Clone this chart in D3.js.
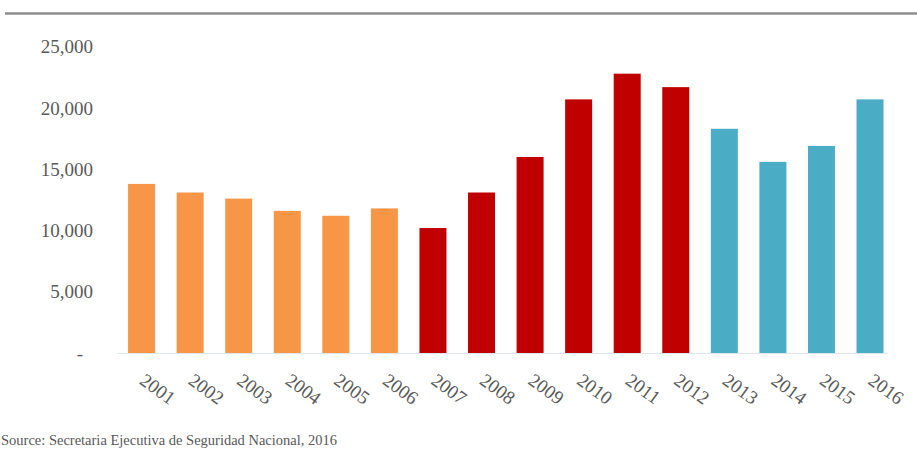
<!DOCTYPE html>
<html>
<head>
<meta charset="utf-8">
<script src="https://cdn.jsdelivr.net/npm/d3@7"></script>
<style>
  html, body { margin: 0; padding: 0; background: #ffffff; }
  svg { display: block; }
</style>
</head>
<body>
<svg id="chart" width="917" height="452"></svg>
<script>
// Homicides per year, 2001–2016
const years = ["2001","2002","2003","2004","2005","2006","2007","2008",
               "2009","2010","2011","2012","2013","2014","2015","2016"];
const homicides = [13800, 13100, 12600, 11600, 11200, 11800, 10200, 13100,
                   16000, 20700, 22800, 21700, 18300, 15600, 16900, 20700];
// Federal administration in office each year
const administration = ["Fox","Fox","Fox","Fox","Fox","Fox",
                        "Calderón","Calderón","Calderón","Calderón","Calderón","Calderón",
                        "Peña Nieto","Peña Nieto","Peña Nieto","Peña Nieto"];
const yTicks = [0, 5000, 10000, 15000, 20000, 25000];
const sourceNote = "Source: Secretaria Ejecutiva de Seguridad Nacional, 2016";

const serif = "'Liberation Serif', 'Times New Roman', serif";
const textColor = "#595959";

const svg = d3.select("#chart");

const color = d3.scaleOrdinal()
  .domain(["Fox", "Calderón", "Peña Nieto"])
  .range(["#F79646", "#C00000", "#4BACC6"]);

// Excel-style 80% gap width
const x = d3.scaleBand()
  .domain(years)
  .range([117.3, 894.3])
  .paddingInner(0.444)
  .paddingOuter(0.222);

const y = d3.scaleLinear()
  .domain([0, 25000])
  .range([353, 46.7]);

// Title rule across the top
svg.append("line")
  .attr("x1", 5).attr("x2", 917)
  .attr("y1", 13.5).attr("y2", 13.5)
  .attr("stroke", "#8c8c8c")
  .attr("stroke-width", 2.5);

// Bars
svg.append("g")
  .selectAll("rect")
  .data(years)
  .join("rect")
  .attr("x", d => x(d))
  .attr("width", x.bandwidth())
  .attr("y", (d, i) => y(homicides[i]))
  .attr("height", (d, i) => y(0) - y(homicides[i]))
  .attr("fill", (d, i) => color(administration[i]));

// Category axis line
svg.append("line")
  .attr("x1", 117.3).attr("x2", 888)
  .attr("y1", y(0) + 0.5).attr("y2", y(0) + 0.5)
  .attr("stroke", "#dfe6ec")
  .attr("stroke-width", 1.2);

// Value axis (labels only)
const yAxis = d3.axisLeft(y)
  .tickValues(yTicks)
  .tickSize(0)
  .tickPadding(0)
  .tickFormat(d => d === 0 ? "-" : d3.format(",")(d));

const gy = svg.append("g")
  .attr("transform", "translate(93,0)")
  .call(yAxis);
gy.attr("font-family", serif);
gy.select(".domain").remove();
gy.selectAll("text")
  .attr("font-size", 19)
  .attr("fill", textColor)
  .attr("x", d => d === 0 ? -10 : 0);

// Category axis labels, rotated
const xAxis = d3.axisBottom(x).tickSize(0).tickPadding(0);
const gx = svg.append("g")
  .attr("transform", `translate(0,${y(0)})`)
  .call(xAxis);
gx.attr("font-family", serif);
gx.select(".domain").remove();
gx.selectAll("text")
  .attr("font-size", 19)
  .attr("fill", textColor)
  .attr("text-anchor", "start")
  .attr("dy", null)
  .attr("y", 0)
  .attr("transform", "translate(-3,30) rotate(36)");

// Source note
svg.append("text")
  .attr("x", 1)
  .attr("y", 445)
  .attr("font-family", serif)
  .attr("font-size", 14)
  .attr("fill", textColor)
  .attr("textLength", 336)
  .attr("lengthAdjust", "spacingAndGlyphs")
  .text(sourceNote);
</script>
</body>
</html>
